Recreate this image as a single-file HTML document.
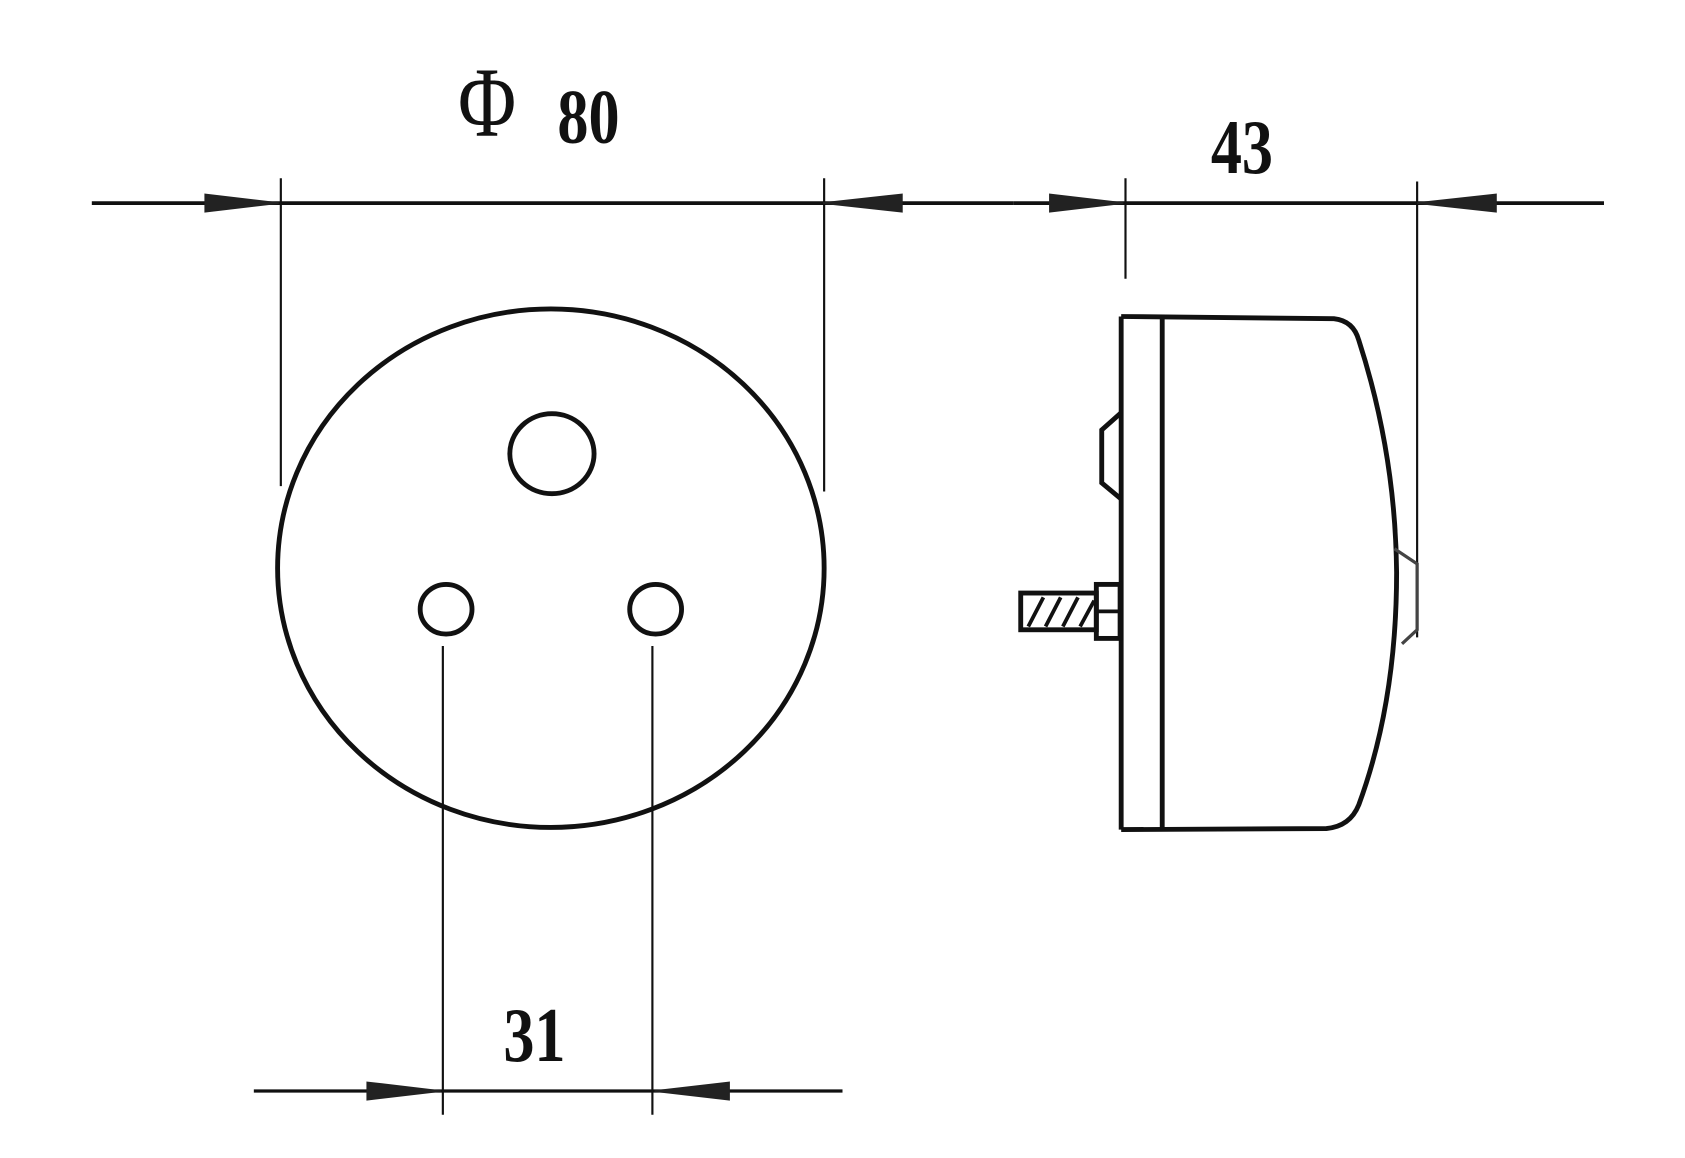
<!DOCTYPE html>
<html><head><style>html,body{margin:0;padding:0;background:#fff}svg{display:block}</style></head>
<body>
<svg width="1685" height="1158" viewBox="0 0 1560 1072" preserveAspectRatio="none" xmlns="http://www.w3.org/2000/svg">
<rect width="1560" height="1072" fill="#fff"/>
<g stroke="#111" fill="none">
<line x1="85" y1="188" x2="938" y2="188" stroke-width="3.5"/>
<line x1="938" y1="188" x2="1485" y2="188" stroke-width="3.5"/>
<line x1="260" y1="165" x2="260" y2="450" stroke-width="2"/>
<line x1="763" y1="165" x2="763" y2="455" stroke-width="2"/>
<line x1="1042" y1="165" x2="1042" y2="258" stroke-width="2"/>
<line x1="1312" y1="168" x2="1312" y2="590" stroke-width="2"/>
<line x1="235" y1="1010" x2="780" y2="1010" stroke-width="3"/>
<line x1="410" y1="598" x2="410" y2="1032" stroke-width="2"/>
<line x1="604" y1="598" x2="604" y2="1032" stroke-width="2"/>
<ellipse cx="510" cy="526" rx="253" ry="240" stroke-width="4.5"/>
<ellipse cx="511" cy="420" rx="39" ry="37" stroke-width="4.5"/>
<ellipse cx="413" cy="564" rx="24" ry="23" stroke-width="4.5"/>
<ellipse cx="607" cy="564" rx="24" ry="23" stroke-width="4.5"/>
<path d="M1038 293 L1038 768 M1076 295 L1076 768" stroke-width="4.5"/>
<path d="M1038 293 L1235 295 Q1253 297 1258 315 Q1292 420 1293 530 Q1293 650 1258 745 Q1250 765 1228 767 L1038 768" stroke-width="4.5"/>
<path d="M1038 382 L1020 398 L1020 447 L1038 462" stroke-width="4.5"/>
<path d="M1291 508 L1312 522 L1312 583 L1298 596" stroke-width="3" stroke="#444"/>
<rect x="1015" y="541" width="22" height="50" stroke-width="4.5" fill="#fff"/>
<line x1="1015" y1="566" x2="1037" y2="566" stroke-width="3.5"/>
<rect x="945" y="549" width="70" height="34" stroke-width="4.5"/>
<path d="M952 580 L966 553 M968 580 L982 553 M984 580 L998 553 M1000 580 L1013 556" stroke-width="3.5"/>
</g>
<g fill="#222" stroke="#222" stroke-width="1.5">
<polygon points="190,180 258,188 190,196"/>
<polygon points="835,180 762,188 835,196"/>
<polygon points="972,180 1040,188 972,196"/>
<polygon points="1385,180 1312,188 1385,196"/>
<polygon points="340,1002 408,1010 340,1018"/>
<polygon points="675,1002 606,1010 675,1018"/>
</g>
<g font-family="Liberation Serif, serif" fill="#111">
<text x="424" y="126" font-size="92" transform="translate(424 0) scale(0.8 1) translate(-424 0)">Φ</text>
<text x="516" y="132" font-size="72" font-weight="bold" transform="translate(516 0) scale(0.8 1) translate(-516 0)">80</text>
<text x="1121" y="160" font-size="72" font-weight="bold" transform="translate(1121 0) scale(0.8 1) translate(-1121 0)">43</text>
<text x="466" y="982" font-size="72" font-weight="bold" transform="translate(466 0) scale(0.8 1) translate(-466 0)">31</text>
</g>
</svg>
</body></html>
